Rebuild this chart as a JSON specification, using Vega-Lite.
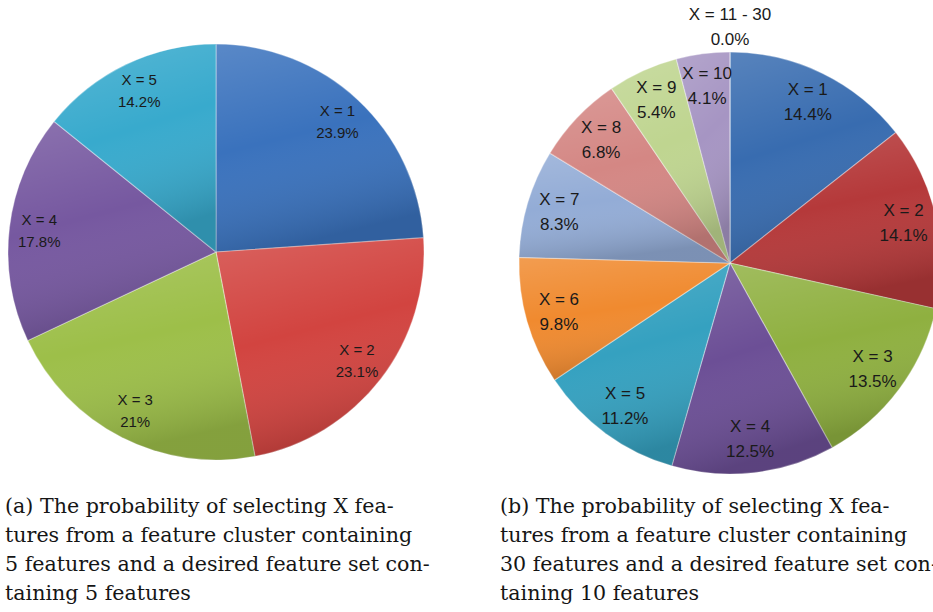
{
  "$schema": "https://vega.github.io/schema/vega-lite/v6.json",
  "padding": 0,
  "spacing": 95,
  "bounds": "flush",
  "background": "white",
  "resolve": {"scale": {"color": "independent", "theta": "independent"}},
  "config": {
    "view": {"stroke": null},
    "text": {"font": "Liberation Sans", "fontSize": 15, "color": "#1a1a1a"}
  },
  "hconcat": [
    {
      "width": 432,
      "height": 504,
      "title": {
        "text": [
          "(a) The probability of selecting X fea-",
          "tures from a feature cluster containing",
          "5 features and a desired feature set con-",
          "taining 5 features"
        ],
        "orient": "bottom",
        "anchor": "start",
        "frame": "group",
        "baseline": "alphabetic",
        "offset": 9,
        "dx": 5,
        "font": "DejaVu Serif",
        "fontSize": 20.6,
        "fontWeight": "normal",
        "lineHeight": 29,
        "color": "#151515"
      },
      "data": {
        "values": [
          {"k": 1, "label": "X = 1", "value": 23.9},
          {"k": 2, "label": "X = 2", "value": 23.1},
          {"k": 3, "label": "X = 3", "value": 21},
          {"k": 4, "label": "X = 4", "value": 17.8},
          {"k": 5, "label": "X = 5", "value": 14.2}
        ]
      },
      "transform": [{"calculate": "datum.value + '%'", "as": "pct"}],
      "encoding": {
        "theta": {"field": "value", "type": "quantitative", "stack": true},
        "order": {"field": "k", "type": "quantitative"}
      },
      "layer": [
        {
          "mark": {"type": "arc", "radius": 208, "stroke": "#ffffff", "strokeOpacity": 0.35, "strokeWidth": 1.2},
          "encoding": {
            "color": {
              "field": "label",
              "type": "nominal",
              "scale": {
                "domain": ["X = 1", "X = 2", "X = 3", "X = 4", "X = 5"],
                "range": ["#3a72bd", "#d24440", "#9dbf49", "#7658a0", "#38aacd"]
              },
              "legend": null
            }
          }
        },
        {
          "mark": {
            "type": "arc",
            "radius": 208,
            "fill": {
              "gradient": "linear",
              "x1": 0, "y1": 0, "x2": 0.25, "y2": 1,
              "stops": [
                {"offset": 0, "color": "rgba(255,255,255,0.16)"},
                {"offset": 0.5, "color": "rgba(255,255,255,0)"},
                {"offset": 1, "color": "rgba(0,0,0,0.16)"}
              ]
            }
          }
        },
        {"mark": {"type": "text", "radius": 178, "dy": -11}, "encoding": {"text": {"field": "label"}}},
        {"mark": {"type": "text", "radius": 178, "dy": 11}, "encoding": {"text": {"field": "pct"}}}
      ]
    },
    {
      "width": 406,
      "height": 526,
      "title": {
        "text": [
          "(b) The probability of selecting X fea-",
          "tures from a feature cluster containing",
          "30 features and a desired feature set con-",
          "taining 10 features"
        ],
        "orient": "bottom",
        "anchor": "start",
        "frame": "group",
        "baseline": "alphabetic",
        "offset": -13,
        "dx": -27,
        "font": "DejaVu Serif",
        "fontSize": 20.6,
        "fontWeight": "normal",
        "lineHeight": 29,
        "color": "#151515"
      },
      "data": {
        "values": [
          {"k": 1, "label": "X = 1", "value": 14.4},
          {"k": 2, "label": "X = 2", "value": 14.1},
          {"k": 3, "label": "X = 3", "value": 13.5},
          {"k": 4, "label": "X = 4", "value": 12.5},
          {"k": 5, "label": "X = 5", "value": 11.2},
          {"k": 6, "label": "X = 6", "value": 9.8},
          {"k": 7, "label": "X = 7", "value": 8.3},
          {"k": 8, "label": "X = 8", "value": 6.8},
          {"k": 9, "label": "X = 9", "value": 5.4},
          {"k": 10, "label": "X = 10", "value": 4.1},
          {"k": 11, "label": "X = 11 - 30", "value": 0}
        ]
      },
      "transform": [{"calculate": "format(datum.value, '.1f') + '%'", "as": "pct"}],
      "encoding": {
        "theta": {"field": "value", "type": "quantitative", "stack": true},
        "order": {"field": "k", "type": "quantitative"}
      },
      "layer": [
        {
          "mark": {"type": "arc", "radius": 211, "stroke": "#ffffff", "strokeOpacity": 0.35, "strokeWidth": 1.2},
          "encoding": {
            "color": {
              "field": "label",
              "type": "nominal",
              "scale": {
                "domain": ["X = 1", "X = 2", "X = 3", "X = 4", "X = 5", "X = 6", "X = 7", "X = 8", "X = 9", "X = 10", "X = 11 - 30"],
                "range": ["#386cb0", "#b5393a", "#8fb040", "#6c4f96", "#35a1c0", "#f08a2f", "#93acd6", "#d48784", "#bfd590", "#a695c3", "#999999"]
              },
              "legend": null
            }
          }
        },
        {
          "mark": {
            "type": "arc",
            "radius": 211,
            "fill": {
              "gradient": "linear",
              "x1": 0, "y1": 0, "x2": 0.25, "y2": 1,
              "stops": [
                {"offset": 0, "color": "rgba(255,255,255,0.16)"},
                {"offset": 0.5, "color": "rgba(255,255,255,0)"},
                {"offset": 1, "color": "rgba(0,0,0,0.16)"}
              ]
            }
          }
        },
        {
          "mark": {"type": "text", "radius": 178, "dy": -12.5, "fontSize": 17},
          "encoding": {
            "text": {"field": "label"},
            "opacity": {"condition": {"test": "datum.value > 0", "value": 1}, "value": 0}
          }
        },
        {
          "mark": {"type": "text", "radius": 178, "dy": 12.5, "fontSize": 17},
          "encoding": {
            "text": {"field": "pct"},
            "opacity": {"condition": {"test": "datum.value > 0", "value": 1}, "value": 0}
          }
        },
        {
          "mark": {"type": "text", "radius": 236, "dy": -12.5, "fontSize": 17},
          "encoding": {
            "text": {"field": "label"},
            "opacity": {"condition": {"test": "datum.value == 0", "value": 1}, "value": 0}
          }
        },
        {
          "mark": {"type": "text", "radius": 236, "dy": 12.5, "fontSize": 17},
          "encoding": {
            "text": {"field": "pct"},
            "opacity": {"condition": {"test": "datum.value == 0", "value": 1}, "value": 0}
          }
        }
      ]
    }
  ]
}
